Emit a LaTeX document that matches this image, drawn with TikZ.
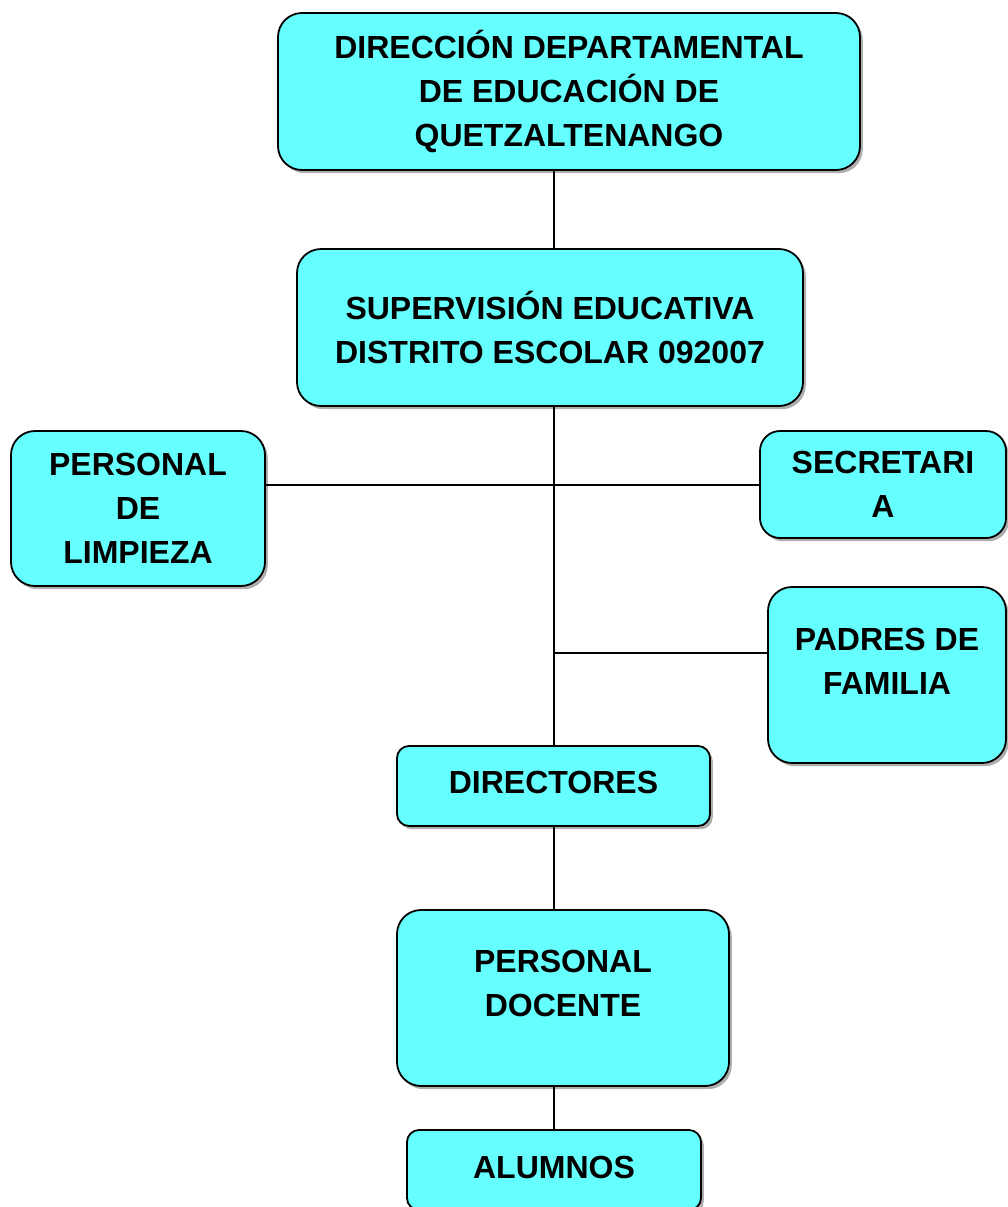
\documentclass[tikz,border=0pt]{standalone}
\usepackage{fontspec}
\setmainfont{Liberation Sans}
\usetikzlibrary{positioning, calc, shadows}
\definecolor{cajacian}{HTML}{66FFFF}

\begin{document}
\begin{tikzpicture}[x=0.5pt, y=-0.5pt,
        caja/.style={draw=black, line width=0.9pt, fill=cajacian,
          rounded corners=12pt, align=center,
          font=\fontsize{16}{22}\selectfont\bfseries,
          drop shadow={shadow xshift=1.4pt, shadow yshift=-1.6pt, opacity=0.45, fill=black!70},
          inner sep=0pt},
        chica/.style={rounded corners=6pt},
        linea/.style={line width=1pt},
      ]
      \useasboundingbox (0,0) rectangle (1008,1207);

      \node[caja, minimum width=291pt, minimum height=78.5pt] (dir) at (569,91.5)
        {DIRECCIÓN DEPARTAMENTAL\\DE EDUCACIÓN DE\\QUETZALTENANGO};
      \node[caja, minimum width=253pt, minimum height=78.5pt] (sup) at (550,327.5)
        {SUPERVISIÓN EDUCATIVA\\DISTRITO ESCOLAR 092007};
      \node[caja, minimum width=127pt, minimum height=77.5pt] (limp) at (138,508.5)
        {PERSONAL\\DE\\LIMPIEZA};
      \node[caja, minimum width=123pt, minimum height=53.5pt, rounded corners=10pt] (sec) at (883,484.5)
        {SECRETARI\\A};
      \node[caja, minimum width=119pt, minimum height=88pt] (padres) at (887,675)
        {PADRES DE\\FAMILIA\\[-8pt]};
      \node[caja, chica, minimum width=156.5pt, minimum height=40pt] (direc) at (553.5,786)
        {\raisebox{3.5pt}{DIRECTORES}};
      \node[caja, minimum width=166pt, minimum height=88pt] (doc) at (563,998)
        {PERSONAL\\DOCENTE\\[-7.5pt]};
      \node[caja, chica, minimum width=147pt, minimum height=40pt] (alum) at (554,1170)
        {\raisebox{3pt}{ALUMNOS}};

      \coordinate (pj) at (553,653);

      \draw[linea] (dir.south -| direc) -- (sup.north -| direc);
      \draw[linea] (sup.south -| direc) -- (direc.north);
      \draw[linea] (limp.east |- sec.west) -- (sec.west);
      \draw[linea] (pj) -- (pj -| padres.west);
      \draw[linea] (direc) -- (doc.north -| direc);
      \draw[linea] (doc.south -| direc) -- (alum.north -| direc);
    \end{tikzpicture}
\end{document}
